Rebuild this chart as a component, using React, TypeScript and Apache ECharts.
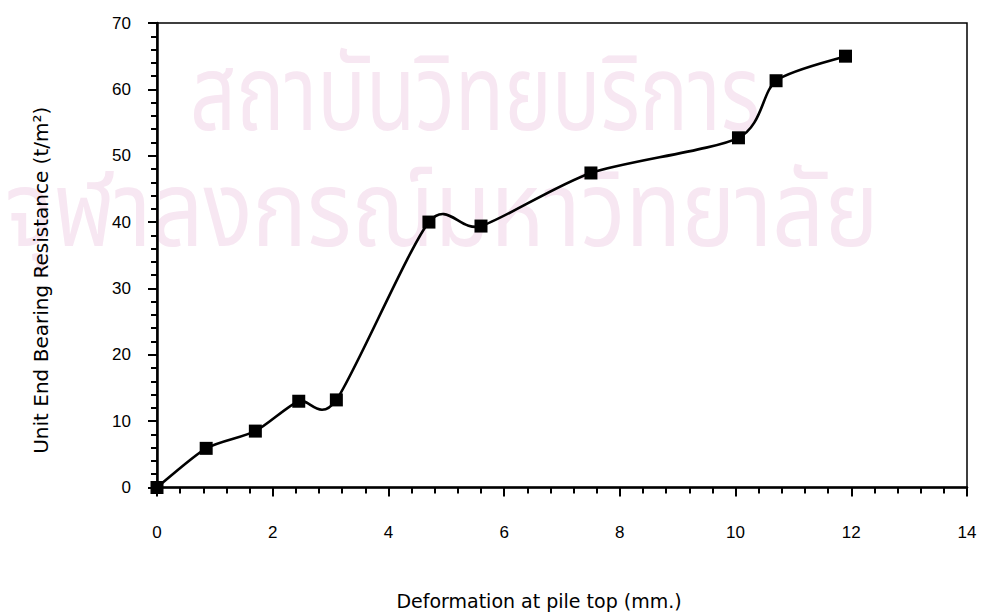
import React, { useEffect, useRef } from "react";
import * as echarts from "echarts";

const deformation = [0, 0.85, 1.7, 2.45, 3.1, 4.7, 5.6, 7.5, 10.05, 10.7, 11.9];
const resistance = [0, 5.9, 8.5, 13, 13.2, 40, 39.4, 47.4, 52.7, 61.3, 65];
const xTitle = "Deformation at pile top (mm.)";
const yTitle = "Unit End Bearing Resistance (t/m²)";
const watermark1 = "สถาบันวิทยบริการ";
const watermark2 = "จุฬาลงกรณ์มหาวิทยาลัย";

export default function App() {
  const ref = useRef<HTMLDivElement>(null);
  useEffect(() => {
    if (!ref.current) return;
    const chart = echarts.init(ref.current, undefined, { renderer: "svg" });
    const font = "'Liberation Sans', Arial, sans-serif";
    const thai = "'Noto Sans Thai', 'Noto Sans', 'DejaVu Sans', sans-serif";
    const points = deformation.map((x, i) => [x, resistance[i]]);
    const n = points.length;

    const renderSegment = (params: any, api: any) => {
      const i = params.dataIndex;
      if (i >= n - 1) return null;
      const p = (j: number) => {
        const k = Math.max(0, Math.min(n - 1, j));
        return api.coord(points[k]);
      };
      const p0 = p(i - 1);
      const p1 = p(i);
      const p2 = p(i + 1);
      const p3 = p(i + 2);
      const t = 0.13;
      return {
        type: "bezierCurve",
        shape: {
          x1: p1[0],
          y1: p1[1],
          cpx1: p1[0] + (p2[0] - p0[0]) * t,
          cpy1: p1[1] + (p2[1] - p0[1]) * t,
          cpx2: p2[0] - (p3[0] - p1[0]) * t,
          cpy2: p2[1] - (p3[1] - p1[1]) * t,
          x2: p2[0],
          y2: p2[1],
        },
        style: { stroke: "#000", lineWidth: 2.6, fill: "none" },
      };
    };

    chart.setOption({
      animation: false,
      backgroundColor: "#ffffff",
      graphic: [
        {
          type: "text",
          z: -10,
          x: 190,
          y: 44,
          scaleX: 0.76,
          silent: true,
          style: { text: watermark1, fontSize: 106, fontFamily: thai, fill: "#f7e7f2" },
        },
        {
          type: "text",
          z: -10,
          x: 5,
          y: 160,
          scaleX: 0.86,
          silent: true,
          style: { text: watermark2, fontSize: 106, fontFamily: thai, fill: "#f7e7f2" },
        },
      ],
      grid: {
        left: 157,
        right: 21,
        top: 23,
        bottom: 128.5,
        show: true,
        borderColor: "#000",
        borderWidth: 1.5,
        backgroundColor: "transparent",
      },
      xAxis: {
        type: "value",
        min: 0,
        max: 14,
        interval: 2,
        name: xTitle,
        nameLocation: "middle",
        nameGap: 104,
        nameTextStyle: { fontFamily: "'DejaVu Sans', sans-serif", fontSize: 19, color: "#000", padding: [0, 46, 0, 0] },
        axisLine: { show: true, onZero: false, lineStyle: { color: "#000", width: 2.5 } },
        axisTick: { show: true, inside: false, length: 9, lineStyle: { color: "#000", width: 2 } },
        minorTick: { show: true, splitNumber: 5, length: 6, lineStyle: { color: "#000", width: 2 } },
        axisLabel: { margin: 36, fontFamily: font, fontSize: 17, color: "#000" },
        splitLine: { show: false },
      },
      yAxis: {
        type: "value",
        min: 0,
        max: 70,
        interval: 10,
        name: yTitle,
        nameLocation: "middle",
        nameGap: 106,
        nameRotate: 90,
        nameTextStyle: { fontFamily: "'DejaVu Sans', sans-serif", fontSize: 20, color: "#000", padding: [0, 50, 0, 0] },
        axisLine: { show: true, onZero: false, lineStyle: { color: "#000", width: 2.5 } },
        axisTick: { show: true, inside: false, length: 9, lineStyle: { color: "#000", width: 2 } },
        minorTick: { show: true, splitNumber: 5, length: 6, lineStyle: { color: "#000", width: 2 } },
        axisLabel: { margin: 26, fontFamily: font, fontSize: 17, color: "#000" },
        splitLine: { show: false },
      },
      series: [
        {
          type: "custom",
          data: points,
          renderItem: renderSegment,
          clip: false,
          z: 4,
          silent: true,
        },
        {
          type: "scatter",
          data: points,
          symbol: "rect",
          symbolSize: 13,
          clip: false,
          itemStyle: { color: "#000", opacity: 1 },
          z: 5,
        },
      ],
    });
    return () => chart.dispose();
  }, []);
  return <div ref={ref} style={{ width: 988, height: 616, position: "absolute", left: 0, top: 0 }} />;
}
